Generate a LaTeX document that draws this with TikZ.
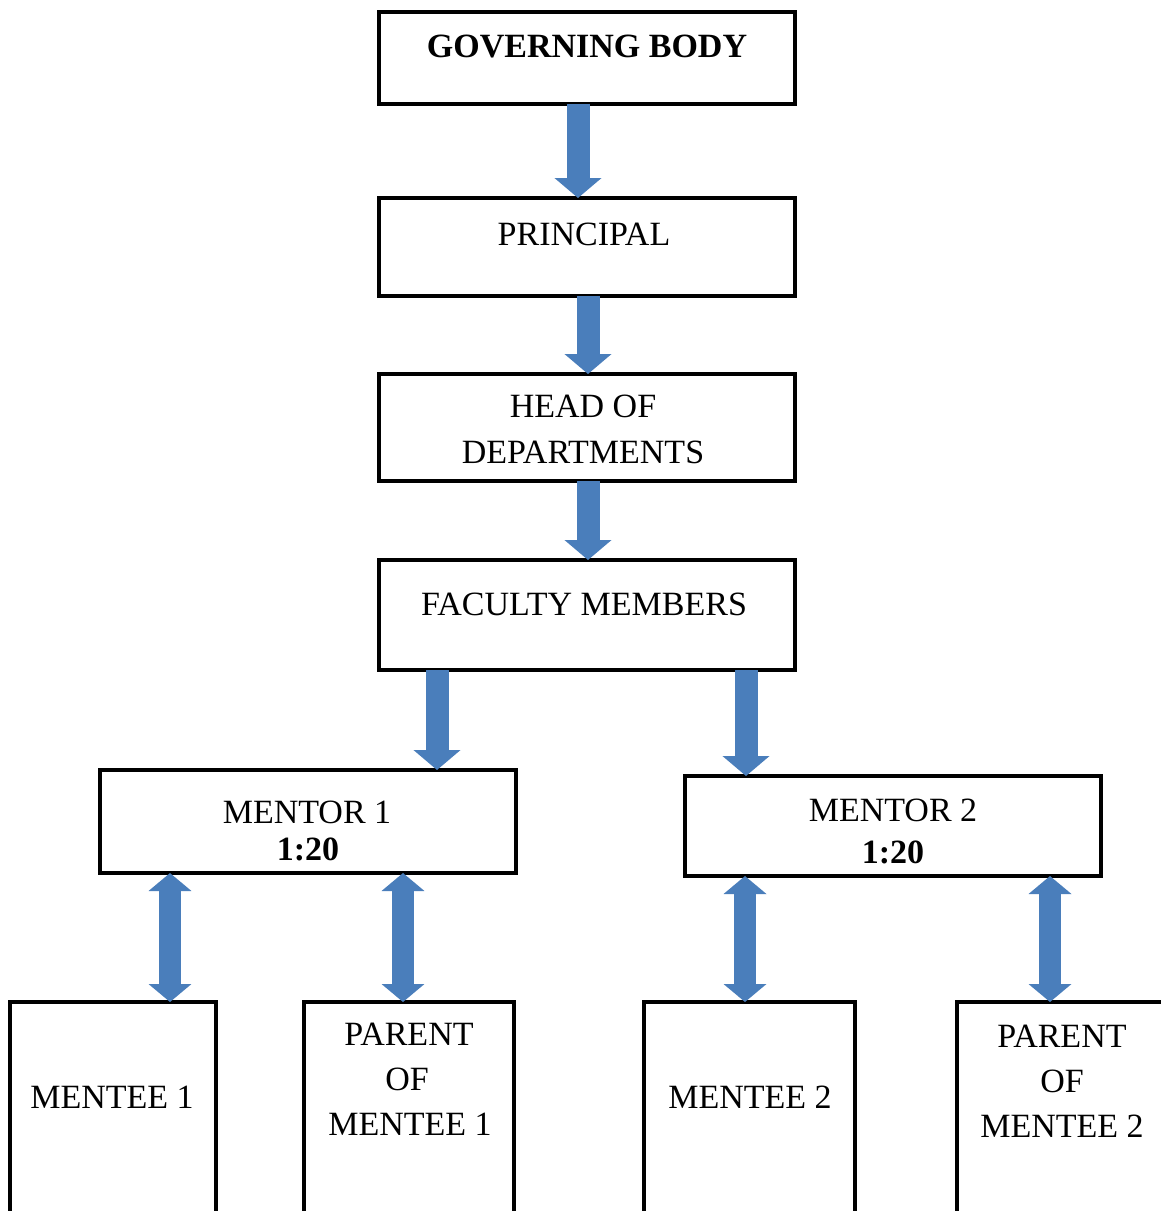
\documentclass[tikz,border=0pt]{standalone}
\usepackage{fontspec}
\setmainfont{Liberation Serif}
\usetikzlibrary{arrows.meta,calc}
\definecolor{arrowblue}{RGB}{74,126,187}
\tikzset{
  box/.style={draw=black, line width=2pt, fill=white, inner sep=0pt, outer sep=0pt, rectangle},
  lbl/.style={anchor=base, inner sep=0pt, font=\fontsize{17}{23}\selectfont},
  blbl/.style={lbl, font=\fontsize{17}{23}\selectfont\bfseries},
  downarrow/.style={draw=arrowblue, line width=11.5pt, -{Triangle[width=23pt,length=10pt]}},
  bothway/.style={draw=arrowblue, line width=11pt, {Triangle[width=21pt,length=9pt]}-{Triangle[width=21pt,length=9pt]}}
}
\begin{document}
\begin{tikzpicture}[x=0.5pt,y=-0.5pt]
\useasboundingbox (0,0) rectangle (1161,1211);
\clip (0,0) rectangle (1161,1211);
\fill[white] (0,0) rectangle (1161,1211);
% boxes
\node[box, minimum width=208pt, minimum height=46pt] (gb) at (587,58) {};
\node[box, minimum width=208pt, minimum height=49pt] (pr) at (587,247) {};
\node[box, minimum width=208pt, minimum height=53.5pt] (hd) at (587,427.5) {};
\node[box, minimum width=208pt, minimum height=55pt] (fm) at (587,615) {};
\node[box, minimum width=208pt, minimum height=51.5pt] (m1) at (308,821.5) {};
\node[box, minimum width=208pt, minimum height=50pt] (m2) at (893,826) {};
\node[box, minimum width=103pt, minimum height=149pt] (me1) at (113,1151) {};
\node[box, minimum width=105pt, minimum height=149pt] (pa1) at (409,1151) {};
\node[box, minimum width=105.5pt, minimum height=149pt] (me2) at (749.5,1151) {};
\node[box, minimum width=121.5pt, minimum height=149pt] (pa2) at (1078.5,1151) {};
% texts
\node[blbl] (gbt) at (587,57) {GOVERNING BODY};
\node[lbl] (prt) at (584,245) {PRINCIPAL};
\node[lbl] (hdt1) at (583,417) {HEAD OF};
\node[lbl] (hdt2) at (583,463) {DEPARTMENTS};
\node[lbl] (fmt) at (584,615) {FACULTY MEMBERS};
\node[lbl] (m1t1) at (307,823) {MENTOR 1};
\node[blbl] (m1t2) at (308,860) {1:20};
\node[lbl] (m2t1) at (893,821) {MENTOR 2};
\node[blbl] (m2t2) at (893,863) {1:20};
\node[lbl] (me1t) at (112,1108) {MENTEE 1};
\node[lbl] (pa1t1) at (409,1045) {PARENT};
\node[lbl] (pa1t2) at (407,1090) {OF};
\node[lbl] (pa1t3) at (410,1135) {MENTEE 1};
\node[lbl] (me2t) at (750,1108) {MENTEE 2};
\node[lbl] (pa2t1) at (1062,1047) {PARENT};
\node[lbl] (pa2t2) at (1062,1092) {OF};
\node[lbl] (pa2t3) at (1062,1137) {MENTEE 2};
% connectors
\draw[downarrow] ($(gb.south)+(-9,0)$) -- ($(pr.north)+(-9,0)$);
\draw[downarrow] ($(pr.south)+(1,0)$) -- ($(hd.north)+(1,0)$);
\draw[downarrow] ($(hd.south)+(1,0)$) -- ($(fm.north)+(1,0)$);
\draw[downarrow] ($(fm.south)+(-150,0)$) -- ($(m1.north)+(129,0)$);
\draw[downarrow] ($(fm.south)+(159,0)$) -- ($(m2.north)+(-147,0)$);
\draw[bothway] ($(m1.south)+(-138,0)$) -- ($(me1.north)+(57,0)$);
\draw[bothway] ($(m1.south)+(95,0)$) -- ($(pa1.north)+(-6,0)$);
\draw[bothway] ($(m2.south)+(-148,0)$) -- ($(me2.north)+(-4.5,0)$);
\draw[bothway] ($(m2.south)+(157,0)$) -- ($(pa2.north)+(-28.5,0)$);
\end{tikzpicture}
\end{document}
